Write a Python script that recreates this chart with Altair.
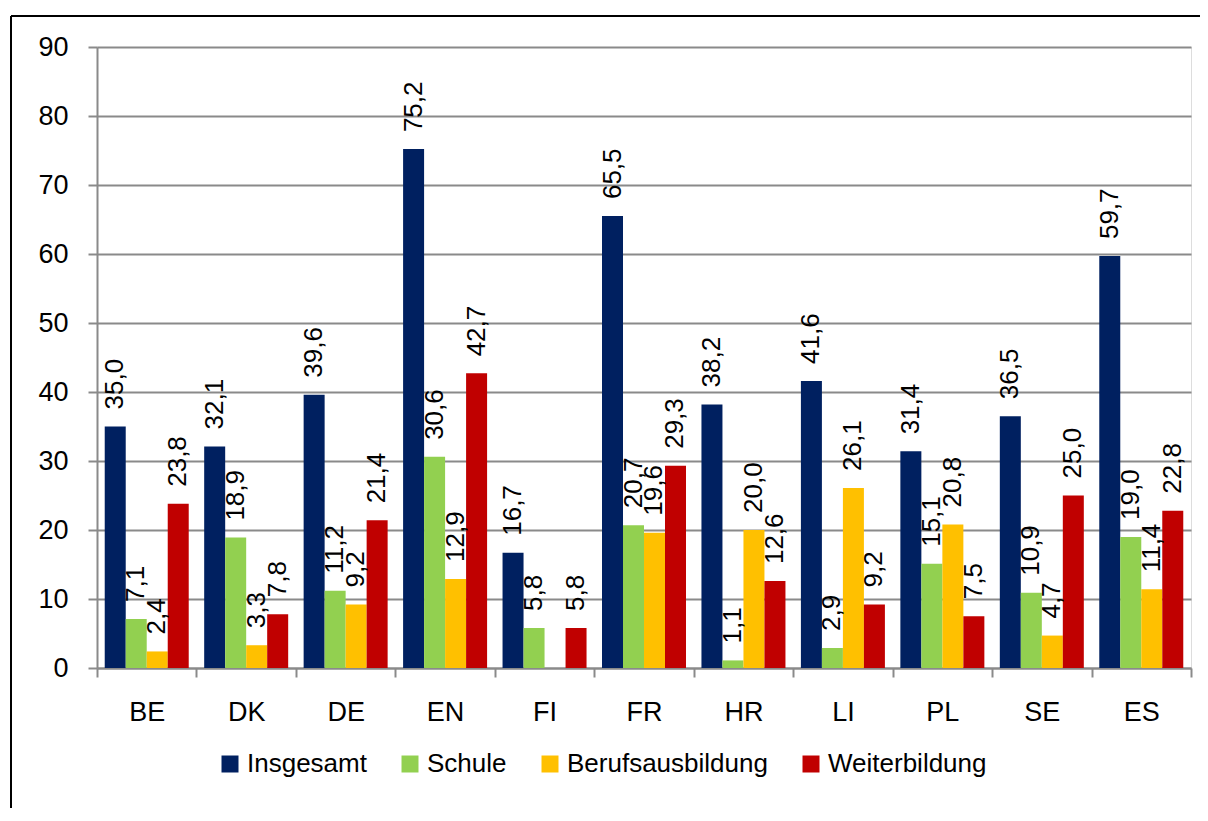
import altair as alt
import pandas as pd

countries = ["BE", "DK", "DE", "EN", "FI", "FR", "HR", "LI", "PL", "SE", "ES"]
series = ["Insgesamt", "Schule", "Berufsausbildung", "Weiterbildung"]
insgesamt = [35.0, 32.1, 39.6, 75.2, 16.7, 65.5, 38.2, 41.6, 31.4, 36.5, 59.7]
schule = [7.1, 18.9, 11.2, 30.6, 5.8, 20.7, 1.1, 2.9, 15.1, 10.9, 19.0]
beruf = [2.4, 3.3, 9.2, 12.9, None, 19.6, 20.0, 26.1, 20.8, 4.7, 11.4]
weiter = [23.8, 7.8, 21.4, 42.7, 5.8, 29.3, 12.6, 9.2, 7.5, 25.0, 22.8]
colors = ["#002060", "#92D050", "#FFC000", "#C00000"]
y_ticks = list(range(0, 91, 10))

rows = []
for s, vals in zip(series, [insgesamt, schule, beruf, weiter]):
    for c, v in zip(countries, vals):
        if v is None:
            continue
        rows.append({"Land": c, "Reihe": s, "Wert": v,
                     "Label": f"{v:.1f}".replace(".", ",")})
df = pd.DataFrame(rows)

FONT = "Liberation Sans, Arial"
GRAY = "#8a8a8a"

x = alt.X("Land:N", sort=countries,
          scale=alt.Scale(paddingInner=0, paddingOuter=0),
          axis=alt.Axis(title=None, labelAngle=0, tickBand="extent",
                        tickSize=9, tickWidth=2, tickColor=GRAY,
                        domainColor=GRAY, domainWidth=2,
                        labelFontSize=27, labelFont=FONT, labelColor="black",
                        labelPadding=22, grid=False))
xoff = alt.XOffset("Reihe:N", sort=series,
                   scale=alt.Scale(paddingInner=0, paddingOuter=0.368))
y = alt.Y("Wert:Q", scale=alt.Scale(domain=[0, 90], nice=False),
          axis=alt.Axis(title=None, values=y_ticks, grid=True,
                        gridColor=GRAY, gridWidth=2,
                        tickSize=9, tickWidth=2, tickColor=GRAY,
                        domainColor=GRAY, domainWidth=2,
                        labelFontSize=27, labelFont=FONT, labelColor="black",
                        labelPadding=20))
color = alt.Color("Reihe:N", sort=series,
                  scale=alt.Scale(domain=series, range=colors),
                  legend=alt.Legend(title=None, orient="none",
                                    direction="horizontal",
                                    legendX=120, legendY=704,
                                    symbolType="square", symbolSize=289,
                                    symbolStrokeWidth=0, symbolOpacity=1,
                                    labelFontSize=26, labelFont=FONT,
                                    labelColor="black", labelOffset=4,
                                    labelLimit=400,
                                    columnPadding=30, padding=0))

bars = alt.Chart(df).mark_bar(opacity=1).encode(
    x=x, xOffset=xoff, y=y, color=color)

labels = alt.Chart(df).mark_text(
    angle=270, align="left", baseline="middle", dx=17,
    fontSize=26, font=FONT, color="black"
).encode(x=x, xOffset=xoff, y=y, text="Label:N")

frame_df = pd.DataFrame({"f": [0]})
frame_top = alt.Chart(frame_df).mark_rule(color="black", strokeWidth=2).encode(
    x=alt.value(-86), x2=alt.value(1300), y=alt.value(-31))
frame_left = alt.Chart(frame_df).mark_rule(color="black", strokeWidth=2).encode(
    x=alt.value(-86), y=alt.value(-31), y2=alt.value(900))

chart = alt.layer(bars, labels, frame_top, frame_left).properties(
    width=1094, height=621,
    padding={"left": 89, "top": 39, "right": 9, "bottom": 140},
    autosize=alt.AutoSizeParams(type="none"),
).configure_view(stroke="transparent").configure(background="white")

chart.save("out.html", embed_options={"renderer": "svg", "actions": False})
